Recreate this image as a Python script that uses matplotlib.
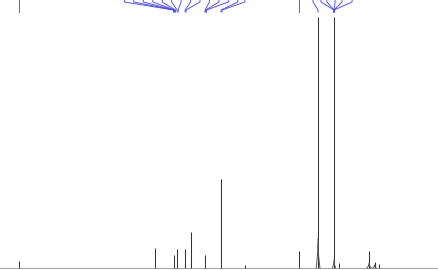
import matplotlib
matplotlib.use("Agg")
import matplotlib.pyplot as plt

# peak positions (ppm) and heights (arbitrary intensity)
peak_ppm = [189.4, 124.7, 115.7, 114.2, 110.4, 107.6, 100.9, 93.3, 81.9,
            56.2, 47.1, 39.5, 37.1, 22.8, 20.0, 18.1]
peak_height = [7, 20, 13, 19, 19, 36, 13, 89, 3,
               17, 251, 251, 5, 17, 6, 4]

# broad bases under some peaks: position, height, half width (ppm)
hump_ppm = [47.1, 39.5, 22.8, 20.2]
hump_height = [30, 8, 5, 3]
hump_width = [0.9, 0.8, 1.0, 0.8]

# peak labels: peak each label points to, and where its text sits
label_peak_ppm = [189.4,
                  115.9, 115.7, 115.5, 115.3, 115.0, 114.2, 113.7, 110.4, 109.9,
                  100.9, 100.6, 100.2, 93.3, 92.8,
                  56.2, 47.1, 39.5, 39.5, 39.5, 39.5, 39.5]
label_text_ppm = [189.4,
                  139.3, 134.8, 130.3, 125.8, 121.3, 116.8, 112.3, 107.8, 103.3,
                  98.8, 94.3, 89.8, 85.3, 81.9,
                  56.2, 49.5, 45.7, 42.9, 39.0, 35.7, 30.9]

fig = plt.figure(figsize=(4.38, 2.70), dpi=100)
ax = fig.add_axes([0, 0, 1, 1])
ax.set_xlim(198.5, -10)
ax.set_ylim(-2, 268)
ax.axis("off")

ax.axhline(0, color="#a0a0a0", lw=0.7)
ax.vlines(peak_ppm, 0, peak_height, color="#333333", lw=0.75)
for p, h, w in zip(hump_ppm, hump_height, hump_width):
    ax.plot([p - w, p - w * 0.3, p, p + w * 0.3, p + w], [0, h * 0.4, h, h * 0.4, 0],
            color="#555555", lw=0.7)

for pk, tx in zip(label_peak_ppm, label_text_ppm):
    ax.plot([pk, pk, tx, tx], [256, 258, 266, 275], color="#4a4aff",
            lw=0.65, clip_on=True)

fig.savefig("out.png", dpi=100)
